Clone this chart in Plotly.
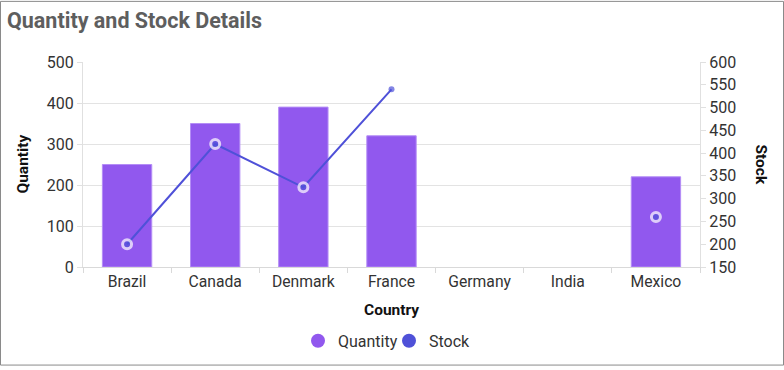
import plotly.graph_objects as go

countries = ["Brazil", "Canada", "Denmark", "France", "Germany", "India", "Mexico"]
quantity = [250, 350, 390, 320, None, None, 220]
stock = [200, 420, 325, 540, None, None, 260]

quantity_ticks = [0, 100, 200, 300, 400, 500]
stock_ticks = [150, 200, 250, 300, 350, 400, 450, 500, 550, 600]

BAR = "#9158EE"
LINE = "#4F51D8"
FONT = "Roboto"
TXT = "#333333"

W, H = 784, 370
ML, MR, MT, MB = 83, 84, 62, 100
PW = W - ML - MR
PH = H - MT - MB


def px_x(p):
    return (p - ML) / PW


def px_y(p):
    return (H - MB - p) / PH


fig = go.Figure()

fig.add_trace(go.Bar(
    x=countries, y=quantity, name="Quantity",
    marker=dict(color=BAR, line=dict(color="#B48DF6", width=1)),
    showlegend=False, yaxis="y",
))

marker_sizes = [9, 9, 9, 6, 0, 0, 9]
marker_lw = [3, 3, 3, 0, 0, 0, 3]
fig.add_trace(go.Scatter(
    x=countries, y=stock, name="Stock", mode="lines+markers",
    line=dict(color=LINE, width=2), connectgaps=False,
    marker=dict(color=LINE, size=marker_sizes,
                line=dict(color="white", width=marker_lw)),
    showlegend=False, yaxis="y2",
))

# legend entries (circle symbols)
fig.add_trace(go.Scatter(x=[None], y=[None], mode="markers", name="Quantity",
                         marker=dict(color=BAR, size=14, symbol="circle"), yaxis="y"))
fig.add_trace(go.Scatter(x=[None], y=[None], mode="markers", name="Stock",
                         marker=dict(color=LINE, size=14, symbol="circle"), yaxis="y"))

fig.update_layout(
    width=W, height=H,
    margin=dict(l=ML, r=MR, t=MT, b=MB, pad=0),
    paper_bgcolor="white", plot_bgcolor="white",
    font=dict(family=FONT, size=16, color=TXT),
    title=dict(text="Quantity and Stock Details", xref="container", yref="container",
               x=7 / W, xanchor="left", y=1 - 20 / H, yanchor="middle",
               font=dict(family=FONT, size=21.5, color="#5e5e5e", weight=700)),
    bargap=0.44,
    xaxis=dict(type="category", categoryorder="array", categoryarray=countries,
               showline=True, linecolor="#d9d9d9", linewidth=1,
               ticks="outside", tickson="boundaries", ticklen=5, tickcolor="#d9d9d9",
               showgrid=False, tickfont=dict(size=15.7, color=TXT)),
    yaxis=dict(range=[0, 500], tickvals=quantity_ticks,
               showline=True, linecolor="#e0e0e0", ticks="outside", ticklen=5,
               tickcolor="#e0e0e0", gridcolor="#e3e3e3", zeroline=False,
               tickfont=dict(size=16, color=TXT)),
    yaxis2=dict(range=[150, 600], tickvals=stock_ticks, overlaying="y", side="right",
                showline=True, linecolor="#e0e0e0", ticks="outside", ticklen=5,
                tickcolor="#e0e0e0", showgrid=False, zeroline=False,
                tickfont=dict(size=16, color=TXT)),
    legend=dict(orientation="h", x=px_x(298), xanchor="left", y=px_y(345), yanchor="middle",
                font=dict(size=16, color=TXT), itemwidth=30, tracegroupgap=0,
                entrywidth=46, entrywidthmode="pixels"),
    annotations=[
        dict(text="<b>Quantity</b>", xref="paper", yref="paper", x=px_x(22), y=0.5,
             xanchor="center", yanchor="middle",
             textangle=-90, showarrow=False, font=dict(size=15.5, color="#111111")),
        dict(text="<b>Stock</b>", xref="paper", yref="paper", x=px_x(761), y=0.5,
             xanchor="center", yanchor="middle",
             textangle=90, showarrow=False, font=dict(size=15.5, color="#111111")),
        dict(text="<b>Country</b>", xref="paper", yref="paper", x=0.5, y=px_y(314),
             xanchor="center", yanchor="middle",
             showarrow=False, font=dict(size=15.5, color="#111111")),
    ],
    shapes=[
        dict(type="rect", xref="paper", yref="paper",
             x0=px_x(0.5), x1=px_x(W - 0.5), y0=px_y(H - 0.5), y1=px_y(0.5),
             line=dict(color="#8a8a8a", width=1), fillcolor="rgba(0,0,0,0)", layer="below"),
    ],
)

fig.write_html("out.html", config={"displayModeBar": False},
               post_script="document.body.style.margin='0px';document.body.style.overflow='hidden';")
